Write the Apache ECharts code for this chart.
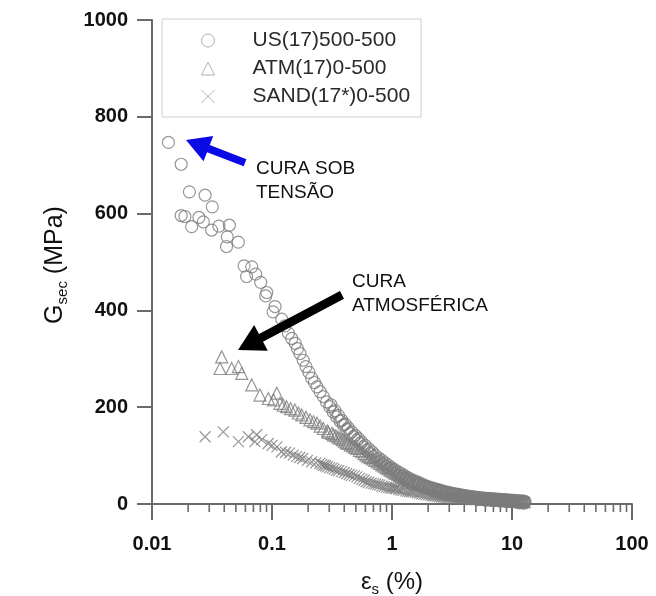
<!DOCTYPE html>
<html>
<head>
<meta charset="utf-8">
<script src="https://cdn.jsdelivr.net/npm/echarts@6/dist/echarts.min.js"></script>
<style>html,body{margin:0;padding:0;background:#fff;}#c{width:656px;height:596px;}</style>
</head>
<body>
<div id="c"></div>
<script>
// ---- data ----
const seriesNames = ['US(17)500-500', 'ATM(17)0-500', 'SAND(17*)0-500'];
const usData = [[0.0137,747],[0.0175,702],[0.0205,645],[0.0277,638],[0.0318,614],[0.0175,596],[0.0188,594],[0.0214,573],[0.0246,592],[0.0268,583],[0.0314,566],[0.0361,574],[0.0441,576],[0.0424,552],[0.0418,532],[0.0524,541],[0.0585,492],[0.0678,490],[0.0614,470],[0.0731,475],[0.0805,458],[0.0904,437],[0.0886,430],[0.106,408],[0.102,397],[0.1205,382],[0.128,368],[0.137,353],[0.146,342],[0.156,332],[0.163,321],[0.171,311],[0.182,297],[0.192,284],[0.203,272],[0.214,260],[0.226,251],[0.237,242],[0.252,232],[0.268,222],[0.285,211],[0.303,201],[0.324,190],[0.346,180],[0.370,171],[0.394,163],[0.420,154],[0.447,146],[0.478,139],[0.510,132],[0.543,125],[0.577,118],[0.62,111],[0.66,104],[0.70,98],[0.75,92],[0.80,87],[0.85,82],[0.90,77],[0.96,73],[1.02,69],[1.08,65],[1.15,61],[1.22,57],[1.30,53],[1.38,50],[1.47,47],[1.56,44],[1.66,41],[1.77,38],[1.88,36],[2.0,34],[2.13,32],[2.26,30],[2.41,28],[2.56,26],[2.72,24],[2.9,23],[3.08,21],[3.28,20],[3.49,19],[3.71,18],[3.95,17],[4.2,16],[4.47,15],[4.75,14],[5.05,13],[5.37,12],[5.71,11.5],[6.08,11],[6.47,10.5],[6.88,10],[7.32,9.5],[7.78,9],[8.28,8.5],[8.81,8],[9.37,7.5],[9.96,7],[10.6,6.5],[11.3,6],[12.0,5.5],[12.6,5],
  [0.31,205],[0.335,193],[0.358,183],[0.382,173],[0.407,165],[0.433,157],[0.462,149],[0.494,142],[0.527,135],[0.56,128],[0.598,121],[0.64,114],[0.68,108],[0.725,101],[0.775,95],[0.825,90],[0.875,85],[0.93,80],[0.99,75],[1.05,71],[1.12,67],[1.19,63],[1.26,59],[1.34,55],[1.42,52],[1.51,49],[1.61,46],[1.71,43],[1.82,40],[1.94,37],[2.06,35],[2.19,33],[2.33,31],[2.48,29],[2.64,27],[2.81,25],[2.99,24],[3.18,22],[3.38,21],[3.6,20],[3.83,18.5],[4.07,17.5],[4.33,16.5],[4.61,15.5],[4.9,14.5],[5.21,13.5],[5.54,12.5],[5.89,12],[6.27,11.5],[6.67,11],[7.1,10.5],[7.55,10],[8.03,9.5],[8.54,9],[9.09,8.5],[9.67,8],[10.3,7.5],[10.9,7],[11.6,6.5],[12.3,6],[12.8,5.5],
  [5.2,9],[6.0,8],[7.0,7],[8.0,6],[9.0,5],[10.0,4.5],[11.0,4],[12.0,3.5],[12.8,3],[11.5,2.5],[12.5,2]];
const atmData = [[0.0381,304],[0.0369,280],[0.0461,280],[0.0525,284],[0.056,270],[0.0678,246],[0.0794,225],[0.0932,218],[0.1097,229],[0.103,215],[0.1166,208],[0.124,204],[0.132,201],[0.143,197],[0.155,194],[0.166,188],[0.177,184],[0.192,179],[0.207,174],[0.222,170],[0.237,167],[0.252,161],[0.268,156],[0.29,151],[0.315,146],[0.34,141],[0.368,136],[0.40,130],[0.43,125],[0.47,120],[0.51,115],[0.56,108],[0.61,101],[0.66,96],[0.72,90],[0.79,84],[0.86,78],[0.93,73],[1.0,68],[1.08,63],[1.16,59],[1.25,55],[1.35,51],[1.46,47],[1.57,44],[1.7,41],[1.83,38],[1.97,35],[2.13,32],[2.3,29],[2.48,27],[2.67,25],[2.88,23],[3.11,21],[3.36,19.5],[3.62,18],[3.91,16.5],[4.22,15],[4.55,14],[4.91,13],[5.3,12],[5.72,11],[6.17,10],[6.66,9.5],[7.18,9],[7.75,8.5],[8.36,8],[9.02,7.5],[9.73,7],[10.5,6.5],[11.3,6],[12.2,5.5],
  [0.295,148],[0.325,143],[0.355,138],[0.385,133],[0.415,127],[0.45,122],[0.49,117],[0.535,111],[0.585,104],[0.635,98],[0.69,93],[0.755,87],[0.825,81],[0.895,75],[0.965,70],[1.04,65],[1.12,61],[1.2,57],[1.3,53],[1.4,49],[1.51,45],[1.63,42],[1.76,39],[1.9,36],[2.05,33],[2.21,30],[2.39,28],[2.57,26],[2.77,24],[3.0,22],[3.23,20],[3.49,18.5],[3.76,17],[4.06,16],[4.38,14.5],[4.73,13.5],[5.1,12.5],[5.5,11.5],[5.94,10.5],[6.41,10],[6.92,9],[7.46,8.5],[8.05,8],[8.69,7.5],[9.37,7],[10.1,6.5],[10.9,6],[11.7,5.5],[12.6,5]];
const sandData = [[0.0277,139],[0.0393,149],[0.0525,129],[0.0635,139],[0.0745,143],[0.072,129],[0.082,133],[0.093,125],[0.10,121],[0.11,118],[0.12,108],[0.13,107],[0.14,105],[0.15,101],[0.16,98],[0.17,96],[0.18,94],[0.197,90],[0.214,87],[0.232,85],[0.25,84],[0.27,80],[0.29,77],[0.317,74],[0.345,70],[0.38,67],[0.42,63],[0.46,59],[0.51,56],[0.56,51],[0.61,46],[0.67,43],[0.73,41],[0.79,39],[0.86,36],[0.94,34],[1.02,33],[1.09,32],[1.19,29],[1.3,27],[1.41,26],[1.5,25],[1.63,23],[1.77,21],[1.93,19.5],[2.1,18],[2.28,16.5],[2.48,15],[2.7,14],[2.94,13],[3.2,12],[3.48,11],[3.79,10.5],[4.12,10],[4.48,9.5],[4.88,9],[5.31,8.5],[5.78,8],[6.29,7.5],[6.84,7],[7.45,6.5],[8.1,6],[8.82,5.5],[9.6,5],[10.4,4.5],[11.3,4],[12.3,3.5],
  [0.26,82],[0.28,79],[0.303,75],[0.33,72],[0.36,69],[0.4,65],[0.44,61],[0.485,58],[0.535,53],[0.585,49],[0.64,45],[0.7,42],[0.76,40],[0.825,37],[0.9,35],[0.98,33],[1.06,32],[1.14,30],[1.24,28],[1.35,26],[1.45,25],[1.56,24],[1.7,22],[1.85,20],[2.01,19],[2.19,17],[2.38,16],[2.59,14.5],[2.82,13.5],[3.07,12.5],[3.34,11.5],[3.63,11],[3.95,10],[4.3,9.5],[4.68,9],[5.09,8.5],[5.54,8],[6.03,7.5],[6.56,7],[7.14,6.5],[7.77,6],[8.45,5.5],[9.2,5],[10.0,4.5],[10.9,4],[11.8,3.5],[12.7,3]];
const xTickLabels = ['0.01', '0.1', '1', '10', '100'];
const yTickValues = [0, 200, 400, 600, 800, 1000];
const xMinorTicks = [0.02,0.03,0.04,0.05,0.06,0.07,0.08,0.09,0.2,0.3,0.4,0.5,0.6,0.7,0.8,0.9,2,3,4,5,6,7,8,9,20,30,40,50,60,70,80,90];
// annotations: text lines, arrow tip and tail in data coordinates
const noteTension = ['CURA SOB', 'TENSÃO'];
const noteAtm = ['CURA', 'ATMOSFÉRICA'];
const arrowTension = { tip: [0.0192, 752], tail: [0.0596, 705] };
const arrowAtm = { tip: [0.0521, 318], tail: [0.383, 432] };

const FONT = "'Liberation Sans', Arial, Helvetica, sans-serif";
const MARK = '#7c7c7c';
const CROSS = 'path://M0,0L10,10M10,0L0,10';
const chart = echarts.init(document.getElementById('c'), null, { renderer: 'canvas' });

function scatter(name, data, symbol, size) {
  return {
    type: 'scatter', name: name, data: data, symbol: symbol, symbolSize: size,
    clip: false, silent: true,
    itemStyle: { color: 'transparent', borderColor: MARK, borderWidth: 1.2 }
  };
}

const option = {
  animation: false,
  backgroundColor: '#fff',
  grid: { left: 152, right: 24, top: 20, bottom: 92 },
  legend: {
    data: [
      { name: seriesNames[0], icon: 'circle' },
      { name: seriesNames[1], icon: 'triangle' },
      { name: seriesNames[2], icon: CROSS }
    ],
    orient: 'vertical', left: 162, top: 19,
    padding: [11, 11, 10, 39], itemWidth: 13, itemHeight: 13, itemGap: 7,
    borderColor: '#cfcfcf', borderWidth: 1, backgroundColor: '#fff',
    selectedMode: false,
    itemStyle: { color: 'transparent', borderColor: '#a0a0a0', borderWidth: 1 },
    formatter: function (name) { return '{p| }' + name; },
    textStyle: { fontSize: 21, color: '#2a2a2a', fontFamily: FONT,
      rich: { p: { width: 33, fontSize: 21 } } }
  },
  xAxis: {
    type: 'log', logBase: 10, min: 0.01, max: 100,
    axisLine: { lineStyle: { color: '#6a6a6a', width: 2 } },
    axisTick: { inside: false, length: 16, lineStyle: { color: '#6a6a6a', width: 2 } },
    splitLine: { show: false },
    axisLabel: {
      margin: 30, fontSize: 20, fontWeight: 'bold', color: '#111', fontFamily: FONT,
      formatter: function (v) { const i = Math.round(Math.log10(v) + 2); return xTickLabels[i] || ''; }
    }
  },
  yAxis: {
    type: 'value', min: yTickValues[0], max: yTickValues[yTickValues.length - 1], interval: 200,
    axisLine: { show: true, lineStyle: { color: '#6a6a6a', width: 2 } },
    axisTick: { show: true, inside: false, length: 15, lineStyle: { color: '#6a6a6a', width: 2 } },
    splitLine: { show: false },
    axisLabel: { margin: 24, fontSize: 20, fontWeight: 'bold', color: '#111', fontFamily: FONT,
      formatter: function (v) { return String(v); } }
  },
  series: [
    scatter(seriesNames[0], usData, 'circle', 12),
    scatter(seriesNames[1], atmData, 'triangle', 12),
    scatter(seriesNames[2], sandData, CROSS, 11),
    {
      type: 'custom', name: 'minorTicks', silent: true, clip: false,
      data: xMinorTicks.map(function (v) { return [v, 0]; }),
      encode: { x: 0, y: 1 },
      renderItem: function (params, api) {
        const p = api.coord([api.value(0), 0]);
        return { type: 'line', shape: { x1: p[0], y1: p[1], x2: p[0], y2: p[1] + 8 },
                 style: { stroke: '#6a6a6a', lineWidth: 1.6 } };
      }
    }
  ]
};
chart.setOption(option);

function arrowPoints(a, hl, hw, sw) {
  const T = chart.convertToPixel({ gridIndex: 0 }, a.tip);
  const S = chart.convertToPixel({ gridIndex: 0 }, a.tail);
  const dx = T[0] - S[0], dy = T[1] - S[1];
  const len = Math.sqrt(dx * dx + dy * dy);
  const d = [dx / len, dy / len], n = [-d[1], d[0]];
  const B = [T[0] - d[0] * hl, T[1] - d[1] * hl];
  const P = function (base, k) { return [base[0] + n[0] * k, base[1] + n[1] * k]; };
  return [P(S, sw), P(B, sw), P(B, hw), T, P(B, -hw), P(B, -sw), P(S, -sw)];
}

const noteStyle = { fontSize: 19, fill: '#111', fontFamily: FONT };
chart.setOption({
  graphic: [
    { type: 'polygon', shape: { points: arrowPoints(arrowTension, 24, 13.5, 3.8) }, style: { fill: '#0a0ae6' }, z: 10 },
    { type: 'polygon', shape: { points: arrowPoints(arrowAtm, 26, 14.5, 4.3) }, style: { fill: '#000' }, z: 10 },
    { type: 'text', left: 256, top: 157, style: Object.assign({ text: noteTension.join('\n'), lineHeight: 24 }, noteStyle) },
    { type: 'text', left: 352, top: 270, style: Object.assign({ text: noteAtm.join('\n'), lineHeight: 24 }, noteStyle) },
    {
      type: 'text', x: 392, y: 582, z: 10,
      style: {
        text: '{a|ε}{s|s}{a| (%)}', fontFamily: FONT, align: 'center', verticalAlign: 'middle',
        rich: {
          a: { fontSize: 24, lineHeight: 30, fill: '#111', fontFamily: FONT },
          s: { fontSize: 15, lineHeight: 14, verticalAlign: 'bottom', fill: '#111', fontFamily: FONT }
        }
      }
    },
    {
      type: 'text', x: 55, y: 265, rotation: Math.PI / 2, z: 10,
      style: {
        text: '{a|G}{s|sec}{a| (MPa)}', fontFamily: FONT, align: 'center', verticalAlign: 'middle',
        rich: {
          a: { fontSize: 25, lineHeight: 30, fill: '#111', fontFamily: FONT },
          s: { fontSize: 15, lineHeight: 14, verticalAlign: 'bottom', fill: '#111', fontFamily: FONT }
        }
      }
    }
  ]
});
</script>
</body>
</html>
